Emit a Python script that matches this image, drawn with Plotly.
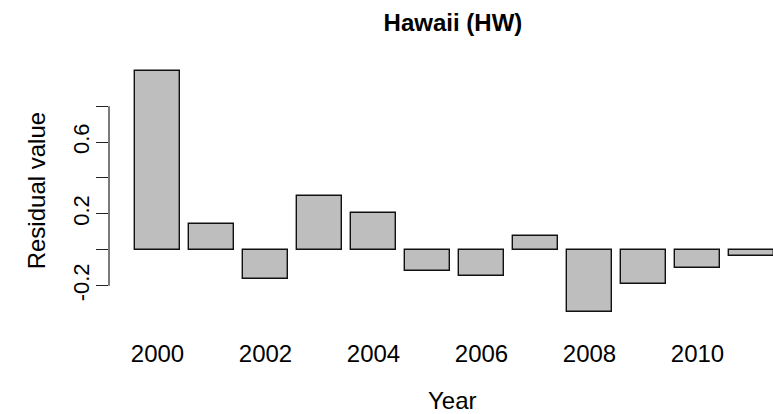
import plotly.graph_objects as go

# residuals per year
years = [2000, 2001, 2002, 2003, 2004, 2005, 2006, 2007, 2008, 2009, 2010, 2011]
residuals = [0.997, 0.145, -0.163, 0.301, 0.206, -0.119, -0.147, 0.076,
             -0.345, -0.189, -0.104, -0.035]

y_ticks = [-0.2, 0.0, 0.2, 0.4, 0.6, 0.8]
y_labels = ["-0.2", "", "0.2", "", "0.6", ""]
x_labels = [str(y) if y % 2 == 0 else "" for y in years]

FONT = "Liberation Sans, Arial, Helvetica, sans-serif"

# barplot-style positions: width 1, space 0.2
centers = [0.7 + 1.2 * i for i in range(len(years))]

fig = go.Figure()
fig.add_trace(go.Bar(
    x=centers, y=residuals, width=1.0,
    marker=dict(color="#bebebe", line=dict(color="#111111", width=1.4)),
    showlegend=False,
))

fig.update_layout(
    width=773, height=414,
    margin=dict(l=109, r=0, t=60, b=93),
    paper_bgcolor="white", plot_bgcolor="white",
    font=dict(family=FONT, size=24, color="black"),
    title=dict(text="<b>Hawaii (HW)</b>", x=0.518, xref="paper",
               xanchor="center", y=0.945, yref="container", yanchor="middle",
               font=dict(size=24)),
    bargap=0,
)

fig.update_xaxes(
    range=[-0.378, 14.378],
    tickvals=centers, ticktext=x_labels,
    showline=False, showgrid=False, zeroline=False,
    ticks="", ticklabelstandoff=16, automargin=False,
)
fig.update_yaxes(
    range=[-0.397, 1.057],
    tickvals=y_ticks, ticktext=y_labels, tickangle=-90,
    tickfont=dict(size=22),
    showline=False, showgrid=False, zeroline=False,
    ticks="outside", ticklen=12, tickwidth=1, tickcolor="#222222",
    ticklabelstandoff=-2, automargin=False,
)

# y axis line only spans the tick range, like base R
fig.add_shape(type="line", xref="paper", yref="y",
              x0=0, x1=0, y0=-0.2, y1=0.8,
              line=dict(color="#222222", width=1.2))

fig.add_annotation(text="Residual value", xref="paper", yref="paper",
                   x=-0.1099, y=0.497, xanchor="center", yanchor="middle",
                   textangle=-90, showarrow=False, font=dict(size=24))
fig.add_annotation(text="Year", xref="paper", yref="paper",
                   x=0.518, y=-0.2435, xanchor="center", yanchor="top",
                   showarrow=False, font=dict(size=24))

# drop the browser's default body margin so the figure sits at the page corner
fig.write_html("out.html", config={"displayModeBar": False},
               post_script="document.body.style.margin='0';")
